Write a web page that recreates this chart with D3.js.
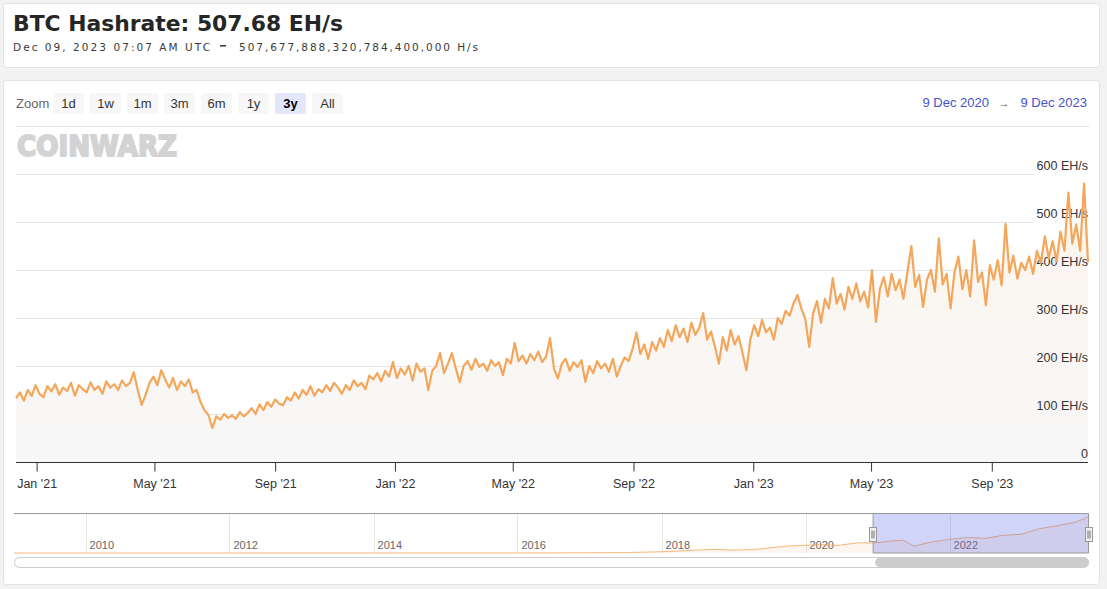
<!DOCTYPE html>
<html>
<head>
<meta charset="utf-8">
<script src="https://cdn.jsdelivr.net/npm/d3@7"></script>
<style>
  body { margin: 0; background: #f2f2f2; }
  svg { display: block; }
</style>
</head>
<body>
<script>
// Title / header
const title = "BTC Hashrate: 507.68 EH/s";
const subtitleDate = "Dec 09, 2023 07:07 AM UTC";
const subtitleValue = "507,677,888,320,784,400,000 H/s";

// main series: one value (EH/s) every 4 days from 11 Dec 2020
const startDate = "2020-12-11";
const stepDays = 4;
const hashrate = [
  133, 145, 128, 150, 138, 160, 142, 135, 158, 147,
  162, 140, 155, 148, 165, 138, 160, 152, 145, 166,
  150, 158, 142, 168, 155, 162, 150, 170, 158, 165,
  187, 150, 119, 140, 165, 178, 160, 191, 172, 155,
  175, 150, 168, 158, 172, 145, 150, 125, 108, 98,
  71, 95, 88, 100, 92, 97, 90, 104, 95, 102,
  112, 100, 120, 108, 125, 115, 130, 122, 118, 135,
  128, 145, 132, 150, 140, 158, 138, 152, 145, 160,
  148, 165, 155, 142, 160, 150, 170, 158, 165, 152,
  180, 172, 185, 168, 190, 178, 208, 175, 195, 182,
  200, 170, 205, 188, 195, 150, 190, 200, 227, 185,
  205, 227, 195, 166, 200, 210, 192, 215, 198, 205,
  190, 212, 200, 208, 181, 215, 205, 248, 210, 222,
  205, 225, 212, 230, 208, 220, 258, 195, 174, 205,
  215, 190, 208, 198, 212, 167, 200, 185, 210, 195,
  205, 188, 215, 178, 200, 218, 210, 235, 270, 225,
  245, 215, 250, 232, 258, 240, 275, 252, 285, 260,
  278, 250, 290, 265, 280, 310, 255, 272, 240, 205,
  260, 232, 275, 245, 262, 228, 191, 255, 285, 262,
  296, 270, 280, 255, 300, 288, 315, 305, 330, 348,
  320, 298, 240, 310, 335, 290, 340, 320, 383, 330,
  350, 318, 365, 340, 372, 335, 355, 322, 400, 292,
  360, 385, 345, 392, 358, 380, 340, 395, 450, 365,
  390, 323, 380, 400, 355, 466, 370, 392, 320, 395,
  428, 360, 400, 345, 462, 375, 395, 327, 410, 380,
  420, 368, 496, 395, 430, 382, 415, 400, 428, 392,
  440, 415, 470, 425, 460, 418, 480, 440, 561, 455,
  495, 440, 580, 416
];

const yTicks = [0, 100, 200, 300, 400, 500, 600];
const xTickDates = ["2021-01-01", "2021-05-01", "2021-09-01", "2022-01-01", "2022-05-01",
  "2022-09-01", "2023-01-01", "2023-05-01", "2023-09-01"];

// range selector
const zoomButtons = ["1d", "1w", "1m", "3m", "6m", "1y", "3y", "All"];
const selectedZoom = "3y";
const rangeFrom = "9 Dec 2020";
const rangeTo = "9 Dec 2023";

// navigator (full history, coarse)
const navDates = ["2009-01-03", "2012-01-01", "2014-01-01", "2015-01-01", "2016-01-01", "2016-07-01",
  "2017-01-01", "2017-07-01", "2018-01-01", "2018-04-01", "2018-07-01", "2018-10-01", "2018-12-15",
  "2019-04-01", "2019-07-01", "2019-10-01", "2020-01-01", "2020-04-01", "2020-06-01", "2020-08-01",
  "2020-10-01", "2020-12-09", "2021-03-01", "2021-05-10", "2021-07-05", "2021-10-01", "2022-01-01",
  "2022-04-01", "2022-07-01", "2022-10-01", "2023-01-01", "2023-04-01", "2023-07-01", "2023-10-01",
  "2023-11-20", "2023-12-09"];
const navValues = [0, 0, 0.02, 0.3, 0.8, 1.5, 2.8, 6, 17, 28, 40, 50, 38, 45, 68, 95, 105, 115, 100, 120,
  140, 135, 160, 175, 92, 150, 185, 210, 200, 240, 255, 330, 370, 420, 470, 500];
const navYears = [2010, 2012, 2014, 2016, 2018, 2020, 2022];

const W = 1107, H = 589;
const lineColor = "#f4a65a";
const chartFont = "'Liberation Sans', Arial, sans-serif";

const svg = d3.select("body").append("svg")
  .attr("width", W)
  .attr("height", H);

svg.append("rect").attr("width", W).attr("height", H).attr("fill", "#f2f2f2");

// header card
svg.append("rect")
  .attr("x", 3.5).attr("y", 3.5).attr("width", 1096).attr("height", 64)
  .attr("rx", 3).attr("fill", "#fff").attr("stroke", "#e2e2e2");

svg.append("text")
  .attr("x", 13).attr("y", 31)
  .attr("font-family", "'DejaVu Sans', sans-serif")
  .attr("font-weight", "bold")
  .attr("font-size", 21)
  .attr("textLength", 330)
  .attr("lengthAdjust", "spacingAndGlyphs")
  .attr("fill", "#262626")
  .text(title);

const sub = svg.append("g")
  .attr("font-family", "'DejaVu Sans', sans-serif")
  .attr("font-size", 10.5)
  .attr("fill", "#3a3a3a");
sub.append("text").attr("x", 13).attr("y", 51)
  .attr("textLength", 197).attr("lengthAdjust", "spacing")
  .text(subtitleDate);
sub.append("rect").attr("x", 220).attr("y", 45).attr("width", 6).attr("height", 1.6).attr("fill", "#444");
sub.append("text").attr("x", 239).attr("y", 51)
  .attr("textLength", 239).attr("lengthAdjust", "spacing")
  .text(subtitleValue);

// chart card
svg.append("rect")
  .attr("x", 3.5).attr("y", 80.5).attr("width", 1096).attr("height", 504)
  .attr("rx", 3).attr("fill", "#fff").attr("stroke", "#e2e2e2");

// range selector
const sel = svg.append("g").attr("font-family", chartFont).attr("font-size", 13);
sel.append("text").attr("x", 16).attr("y", 108).attr("fill", "#666").text("Zoom");

const btnX = d3.scalePoint().domain(zoomButtons).range([53, 312]);
const btn = sel.selectAll("g.btn").data(zoomButtons).enter().append("g")
  .attr("class", "btn")
  .attr("transform", d => `translate(${btnX(d)},93)`);
btn.append("rect")
  .attr("width", 31).attr("height", 21).attr("rx", 2)
  .attr("fill", d => d === selectedZoom ? "#e4e7fa" : "#f7f7f7");
btn.append("text")
  .attr("x", 15.5).attr("y", 15)
  .attr("text-anchor", "middle")
  .attr("font-weight", d => d === selectedZoom ? "bold" : "normal")
  .attr("fill", d => d === selectedZoom ? "#000" : "#333")
  .text(d => d);

const rangeColor = "#4553d0";
sel.append("text").attr("x", 1087).attr("y", 107).attr("text-anchor", "end")
  .attr("fill", rangeColor).text(rangeTo);
sel.append("text").attr("x", 1004).attr("y", 107).attr("text-anchor", "middle")
  .attr("font-size", 11).attr("fill", "#666").text("\u2192");
sel.append("text").attr("x", 989).attr("y", 107).attr("text-anchor", "end")
  .attr("fill", rangeColor).text(rangeFrom);

svg.append("line")
  .attr("x1", 16).attr("x2", 1090).attr("y1", 126.5).attr("y2", 126.5)
  .attr("stroke", "#e6e6e6");

// watermark logo
svg.append("text")
  .attr("x", 17).attr("y", 156)
  .attr("font-family", "'DejaVu Sans', sans-serif")
  .attr("font-weight", "bold")
  .attr("font-size", 29)
  .attr("textLength", 160)
  .attr("lengthAdjust", "spacingAndGlyphs")
  .attr("fill", "#d3d3d3")
  .attr("stroke", "#d3d3d3")
  .attr("stroke-width", 2)
  .attr("stroke-linejoin", "miter")
  .text("COINWARZ");

// main chart
const parse = d3.utcParse("%Y-%m-%d");
const t0 = parse(startDate);
const data = hashrate.map((v, i) => ({ date: d3.utcDay.offset(t0, i * stepDays), value: v }));

const x = d3.scaleUtc()
  .domain(d3.extent(data, d => d.date))
  .range([16, 1088]);
const y = d3.scaleLinear().domain([0, 600]).range([462, 174]);

const grid = svg.append("g");
grid.selectAll("line").data(yTicks.filter(d => d > 0)).enter().append("line")
  .attr("x1", 16).attr("x2", 1034)
  .attr("y1", d => Math.round(y(d)) + 0.5).attr("y2", d => Math.round(y(d)) + 0.5)
  .attr("stroke", "#e6e6e6");

const grad = svg.append("defs").append("linearGradient")
  .attr("id", "areaFill").attr("x1", 0).attr("x2", 0).attr("y1", 0).attr("y2", 1);
grad.append("stop").attr("offset", "0%").attr("stop-color", "#fcf5ee");
grad.append("stop").attr("offset", "100%").attr("stop-color", "#f7f7f7");

const area = d3.area()
  .x(d => x(d.date))
  .y0(y(0))
  .y1(d => y(d.value));
svg.append("path").datum(data)
  .attr("d", area)
  .attr("fill", "url(#areaFill)");

// y labels
svg.append("g")
  .attr("font-family", chartFont).attr("font-size", 12.5).attr("fill", "#333")
  .selectAll("text").data(yTicks).enter().append("text")
  .attr("x", 1088).attr("y", d => y(d) - 4)
  .attr("text-anchor", "end")
  .text(d => d === 0 ? "0" : d + " EH/s");

const line = d3.line()
  .x(d => x(d.date))
  .y(d => y(d.value));
svg.append("path").datum(data)
  .attr("d", line)
  .attr("fill", "none")
  .attr("stroke", lineColor)
  .attr("stroke-width", 2.2)
  .attr("stroke-linejoin", "round");

// x axis
const xAxis = svg.append("g")
  .attr("transform", "translate(0,462.5)")
  .call(d3.axisBottom(x)
    .tickValues(xTickDates.map(parse))
    .tickSize(9)
    .tickSizeOuter(0)
    .tickPadding(8)
    .tickFormat(d3.utcFormat("%b '%y")));
xAxis.select(".domain").attr("stroke", "#333").attr("d", "M16,0H1088");
xAxis.selectAll(".tick line").attr("stroke", "#333");
xAxis.selectAll(".tick text")
  .attr("font-family", chartFont).attr("font-size", 12.5).attr("fill", "#333");

// navigator
const navTop = 514, navBottom = 553;
const navData = navDates.map((d, i) => ({ date: parse(d), value: navValues[i] }));
const nx = d3.scaleUtc()
  .domain([parse("2009-01-03"), parse("2023-12-09")])
  .range([14, 1089]);
const ny = d3.scaleLinear().domain([0, 530]).range([navBottom, navTop]);

const nav = svg.append("g");
nav.selectAll("line.ng").data(navYears).enter().append("line")
  .attr("class", "ng")
  .attr("x1", d => Math.round(nx(new Date(Date.UTC(d, 0, 1)))) + 0.5)
  .attr("x2", d => Math.round(nx(new Date(Date.UTC(d, 0, 1)))) + 0.5)
  .attr("y1", navTop).attr("y2", navBottom)
  .attr("stroke", "#e6e6e6");
nav.selectAll("text").data(navYears).enter().append("text")
  .attr("x", d => nx(new Date(Date.UTC(d, 0, 1))) + 4)
  .attr("y", 549)
  .attr("font-family", chartFont).attr("font-size", 11).attr("fill", "#666")
  .text(d => d);

nav.append("path").datum(navData)
  .attr("d", d3.area().x(d => nx(d.date)).y0(navBottom).y1(d => ny(d.value)))
  .attr("fill", lineColor).attr("fill-opacity", 0.1);
nav.append("path").datum(navData)
  .attr("d", d3.line().x(d => nx(d.date)).y(d => ny(d.value)))
  .attr("fill", "none").attr("stroke", lineColor).attr("stroke-width", 1).attr("stroke-opacity", 0.8);

const mx0 = nx(parse("2020-12-09")), mx1 = 1088.5;
nav.append("rect")
  .attr("x", mx0).attr("y", navTop).attr("width", mx1 - mx0).attr("height", navBottom - navTop)
  .attr("fill", "rgba(90,100,235,0.28)");
nav.append("path")
  .attr("d", `M14,${navTop - 0.5}H${mx0}V${navBottom}H${mx1}V${navTop - 0.5}H1089`)
  .attr("fill", "none").attr("stroke", "#999");
nav.append("line")
  .attr("x1", mx0).attr("x2", mx1).attr("y1", navTop - 0.5).attr("y2", navTop - 0.5)
  .attr("stroke", "#999");

const handles = nav.selectAll("g.h").data([mx0, mx1]).enter().append("g")
  .attr("class", "h")
  .attr("transform", d => `translate(${Math.round(d) - 3.5},527.5)`);
handles.append("rect").attr("width", 7).attr("height", 14)
  .attr("fill", "#f2f2f2").attr("stroke", "#999");
handles.append("path").attr("d", "M2.5,3V11M4.5,3V11").attr("stroke", "#333").attr("stroke-width", 0.7);

// scrollbar
svg.append("rect")
  .attr("x", 14.5).attr("y", 557.5).attr("width", 1074).attr("height", 10).attr("rx", 5)
  .attr("fill", "#fff").attr("stroke", "#ccc");
svg.append("rect")
  .attr("x", mx0 + 2).attr("y", 557.5).attr("width", 1089 - mx0 - 2).attr("height", 10).attr("rx", 5)
  .attr("fill", "#ccc");
</script>
</body>
</html>
